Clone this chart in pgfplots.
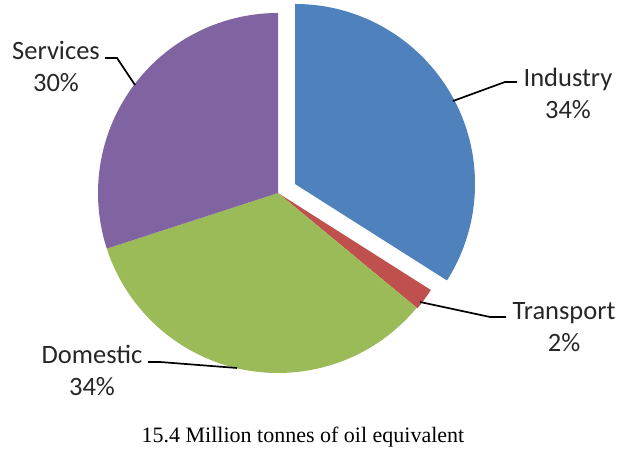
\documentclass[border=0pt]{standalone}
\usepackage{pgfplots}
\pgfplotsset{compat=1.18}
\usepackage{fontspec}
\setmainfont{Liberation Serif}
\newfontfamily\lblfont{Carlito}
\definecolor{cInd}{HTML}{4F81BD}
\definecolor{cTra}{HTML}{C0504D}
\definecolor{cDom}{HTML}{9BBB59}
\definecolor{cSer}{HTML}{8064A2}
% shares in percent (clockwise from 12 o'clock)
\def\pInd{34}\def\pTra{2}\def\pDom{34}\def\pSer{30}
\pgfmathsetmacro\aA{90}
\pgfmathsetmacro\aB{\aA-3.6*\pInd}
\pgfmathsetmacro\aC{\aB-3.6*\pTra}
\pgfmathsetmacro\aD{\aC-3.6*\pDom}
\pgfmathsetmacro\aE{\aD-3.6*\pSer}
\begin{document}
\begin{tikzpicture}
\begin{axis}[x=1pt,y=1pt,xmin=0,xmax=619,ymin=0,ymax=454,
  hide axis, clip=false]
\addplot[draw=none,forget plot] coordinates {(0,0) (619,454)};
% exploded Industry slice
\fill[cInd] (axis cs:295,270) -- ++(\aA:180pt) arc[start angle=\aA,end angle=\aB,radius=180pt] -- cycle;
\fill[cTra] (axis cs:278,261) -- ++(\aB:181pt) arc[start angle=\aB,end angle=\aC,radius=181pt] -- cycle;
\fill[cDom] (axis cs:278,261) -- ++(\aC:180pt) arc[start angle=\aC,end angle=\aD,radius=180pt] -- cycle;
\fill[cSer] (axis cs:278,261) -- ++(\aD:180pt) arc[start angle=\aD,end angle=\aE,radius=180pt] -- cycle;
% leader lines
\draw[black,line width=1.7pt] (axis cs:105,396) -- (axis cs:117,396) -- (axis cs:135,369);
\draw[black,line width=1.7pt] (axis cs:453,353) -- (axis cs:505,372) -- (axis cs:517,372);
\draw[black,line width=1.7pt] (axis cs:420,152) -- (axis cs:490,137) -- (axis cs:506,137);
\draw[black,line width=1.7pt] (axis cs:148,92) -- (axis cs:160,92) -- (axis cs:237,86);
% labels
\begin{scope}[every node/.style={align=center,font=\lblfont\fontsize{26.5}{32}\selectfont,text=black!85}]
\node at (axis cs:56,387) {Services\\30\%};
\node at (axis cs:568,361) {Industry\\34\%};
\node at (axis cs:564,127) {Transport\\2\%};
\node at (axis cs:92,84) {Domestic\\34\%};
\end{scope}
\node[font=\fontsize{22}{26}\selectfont] at (axis cs:303,17) {15.4 Million tonnes of oil equivalent};
\end{axis}
\end{tikzpicture}
\end{document}
